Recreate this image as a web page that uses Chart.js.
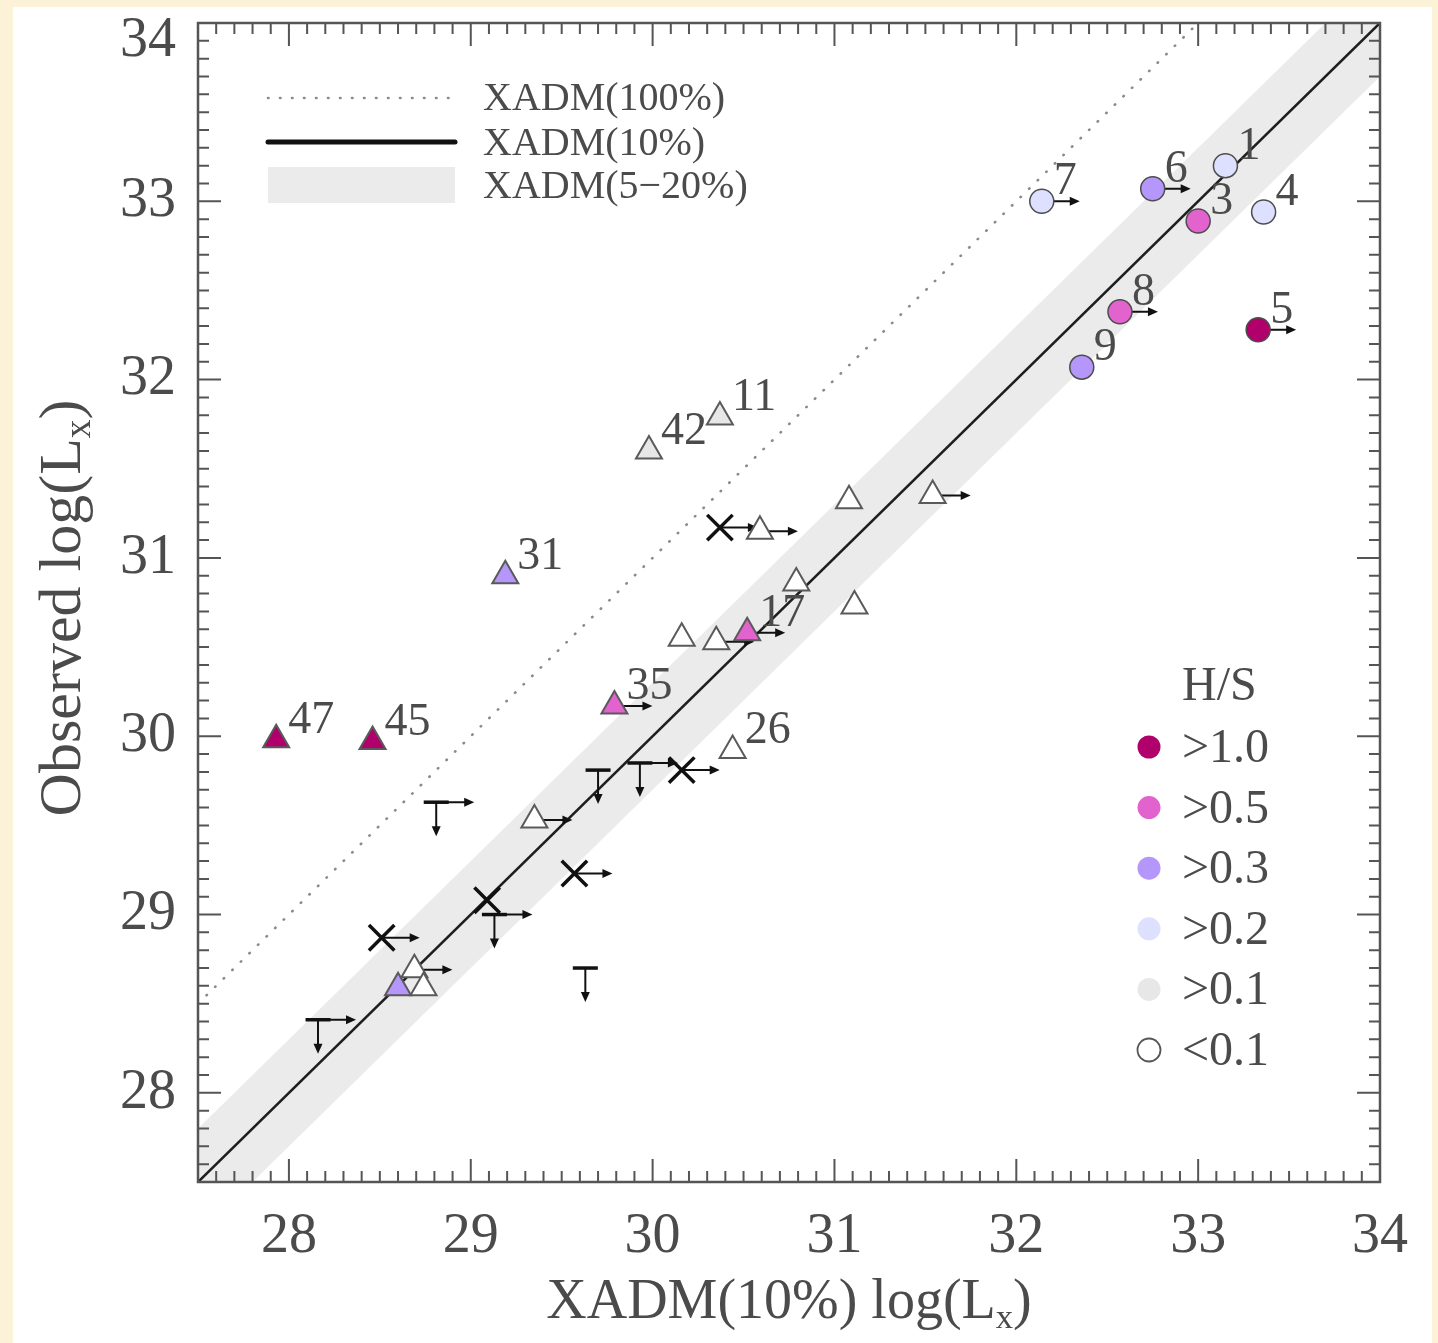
<!DOCTYPE html>
<html>
<head>
<meta charset="utf-8">
<title>Observed log(Lx) vs XADM(10%) log(Lx)</title>
<script src="https://cdn.jsdelivr.net/npm/chart.js@4.4.1/dist/chart.umd.min.js"></script>
<style>
  html, body { margin: 0; padding: 0; }
  body { width: 1438px; height: 1343px; background: #fbf2d7; position: relative; overflow: hidden; }
  .panel { position: absolute; left: 13px; top: 7px; width: 1419px; height: 1336px; background: #fff; }
  #lxChart { position: absolute; left: 0; top: 0; }
</style>
</head>
<body>
<div class="panel"></div>
<canvas id="lxChart" width="1438" height="1343"></canvas>
<script>
// axis range (both axes are log Lx) and labelled ticks
const axisRange = [27.5, 34];
const tickValues = [28, 29, 30, 31, 32, 33, 34];

// model lines: XADM(10%) is y = x, XADM(100%) sits one dex above, 5-20% band is +/- log10(2)
const fullModelOffset = 1;
const bandOffset = 0.3;

// H/S hardness classes
const hsLabels = [">1.0", ">0.5", ">0.3", ">0.2", ">0.1", "<0.1"];
const hsColors = ["#b1006b", "#e263cd", "#b597fb", "#dde0ff", "#e7e7e7", "#ffffff"];

// numbered sources (circles); hs = index into hsLabels, lowX = lower limit on the model value
const circleIds = ["1", "6", "7", "3", "4", "8", "9", "5"];
const circleX = [33.15, 32.75, 32.14, 33.00, 33.36, 32.57, 32.36, 33.33];
const circleY = [33.20, 33.07, 33.00, 32.89, 32.94, 32.38, 32.07, 32.28];
const circleHS = [3, 2, 3, 1, 3, 1, 2, 0];
const circleLowX = [false, true, true, false, false, true, false, true];

// triangles
const triIds = ["47", "45", "31", "42", "11", "35", "26", "17", "", "", "", "", "", "", "", "", "", "", ""];
const triX = [27.93, 28.46, 29.19, 29.98, 30.37, 29.79, 30.44, 30.52, 30.16, 30.35, 30.79, 31.08, 31.54, 31.11, 30.59, 29.35, 28.60, 28.69, 28.74];
const triY = [29.98, 29.97, 30.90, 31.60, 31.79, 30.17, 29.92, 30.58, 30.55, 30.53, 30.86, 31.32, 31.35, 30.73, 31.15, 29.53, 28.59, 28.69, 28.59];
const triHS = [0, 0, 2, 4, 4, 1, 5, 1, 5, 5, 5, 5, 5, 5, 5, 5, 2, 5, 5];
const triLowX = [false, false, false, false, false, true, false, true, false, true, false, false, true, false, true, true, false, true, false];

// crosses
const crossX = [30.37, 30.16, 29.57, 29.09, 28.51];
const crossY = [31.17, 29.81, 29.23, 29.08, 28.87];
const crossLowX = [true, true, true, false, true];

// upper limits on the observed value
const limitX = [28.81, 28.16, 29.13, 29.63, 29.70, 29.93];
const limitY = [29.63, 28.41, 29.00, 28.70, 29.81, 29.85];
const limitLowX = [true, true, true, false, false, true];

const family = "'Liberation Serif', 'Times New Roman', serif";
const ink = "#4b4b4b";

const toPoints = (xs, ys) => xs.map((x, i) => ({ x, y: ys[i] }));
const lineThrough = off => axisRange.map(x => ({ x, y: x + off }));

const datasets = [
  {
    label: "circles", data: toPoints(circleX, circleY),
    pointStyle: "circle", pointRadius: 12,
    pointBackgroundColor: circleHS.map(h => hsColors[h]),
    pointBorderColor: "#4d4d4d", pointBorderWidth: 1.5, order: 0
  },
  {
    label: "triangles", data: toPoints(triX, triY),
    pointStyle: "triangle", pointRadius: 15,
    pointBackgroundColor: triHS.map(h => hsColors[h]),
    pointBorderColor: "#5a5a5a", pointBorderWidth: 2, order: 1
  },
  {
    label: "crosses", data: toPoints(crossX, crossY),
    pointStyle: "crossRot", pointRadius: 18,
    pointBorderColor: "#111", pointBorderWidth: 3.5, order: 2
  },
  {
    label: "limits", data: toPoints(limitX, limitY),
    pointStyle: "line", pointRadius: 12.5,
    pointBorderColor: "#111", pointBorderWidth: 3.5, order: 3
  },
  {
    type: "line", label: "XADM(10%)", data: lineThrough(0),
    borderColor: "#1e1e1e", borderWidth: 2.6, pointRadius: 0, fill: false, order: 4
  },
  {
    type: "line", label: "XADM(100%)", data: lineThrough(fullModelOffset),
    borderColor: "#8a8a8a", borderWidth: 2.6, borderDash: [0.5, 11.5], borderCapStyle: "round",
    pointRadius: 0, fill: false, order: 5
  },
  {
    type: "line", label: "XADM(5-20%)", data: lineThrough(bandOffset),
    borderColor: "transparent", borderWidth: 0, backgroundColor: "#ebebeb",
    fill: "+1", pointRadius: 0, order: 6
  },
  {
    type: "line", label: "band-low", data: lineThrough(-bandOffset),
    borderColor: "transparent", borderWidth: 0, fill: false, pointRadius: 0, order: 6
  }
];
const limitIndex = 3;

function drawArrow(ctx, x0, y0, x1, y1) {
  const a = Math.atan2(y1 - y0, x1 - x0), head = 10, half = 4.5;
  const c = Math.cos(a), s = Math.sin(a);
  ctx.beginPath();
  ctx.moveTo(x0, y0);
  ctx.lineTo(x1 - c * head * 0.6, y1 - s * head * 0.6);
  ctx.stroke();
  ctx.beginPath();
  ctx.moveTo(x1, y1);
  ctx.lineTo(x1 - head * c + half * s, y1 - head * s - half * c);
  ctx.lineTo(x1 - head * c - half * s, y1 - head * s + half * c);
  ctx.closePath();
  ctx.fill();
}

// "prefix log(L_x)" with a real subscript, centred on x
function drawLogText(ctx, prefix, x, y, size) {
  const main = prefix + "log(L", sub = "x", tail = ")";
  const subSize = size * 0.62;
  ctx.font = `${size}px ${family}`;
  const w1 = ctx.measureText(main).width, w3 = ctx.measureText(tail).width;
  ctx.font = `${subSize}px ${family}`;
  const w2 = ctx.measureText(sub).width;
  let cx = x - (w1 + w2 + w3) / 2;
  ctx.textAlign = "left";
  ctx.textBaseline = "alphabetic";
  ctx.font = `${size}px ${family}`;
  ctx.fillText(main, cx, y);
  cx += w1;
  ctx.font = `${subSize}px ${family}`;
  ctx.fillText(sub, cx, y + size * 0.17);
  cx += w2;
  ctx.font = `${size}px ${family}`;
  ctx.fillText(tail, cx, y);
}

// limit arrows go under the markers
const limitArrows = {
  id: "limitArrows",
  beforeDatasetDraw(chart, args) {
    if (args.index !== limitIndex) return;
    const { ctx, scales: { x, y } } = chart;
    ctx.save();
    ctx.strokeStyle = "#111";
    ctx.fillStyle = "#111";
    ctx.lineWidth = 2;
    const right = (xs, ys, flags) => xs.forEach((v, i) => {
      if (!flags[i]) return;
      const px = x.getPixelForValue(v), py = y.getPixelForValue(ys[i]);
      drawArrow(ctx, px, py, px + 38, py);
    });
    right(circleX, circleY, circleLowX);
    right(triX, triY, triLowX);
    right(crossX, crossY, crossLowX);
    right(limitX, limitY, limitLowX);
    limitX.forEach((v, i) => {
      const px = x.getPixelForValue(v), py = y.getPixelForValue(limitY[i]);
      drawArrow(ctx, px, py, px, py + 34);
    });
    ctx.restore();
  }
};

// box frame with inward major/minor ticks on all four sides
const frameTicks = {
  id: "frameTicks",
  afterDatasetsDraw(chart) {
    const { ctx, chartArea: a, scales: { x, y } } = chart;
    ctx.save();
    ctx.strokeStyle = "#555";
    ctx.lineWidth = 2;
    ctx.beginPath();
    for (let i = 276; i < 340; i++) {
      const v = i / 10, len = i % 10 === 0 ? 23 : 11;
      const px = x.getPixelForValue(v), py = y.getPixelForValue(v);
      ctx.moveTo(px, a.bottom); ctx.lineTo(px, a.bottom - len);
      ctx.moveTo(px, a.top); ctx.lineTo(px, a.top + len);
      ctx.moveTo(a.left, py); ctx.lineTo(a.left + len, py);
      ctx.moveTo(a.right, py); ctx.lineTo(a.right - len, py);
    }
    ctx.stroke();
    ctx.lineWidth = 2.5;
    ctx.strokeRect(a.left, a.top, a.right - a.left, a.bottom - a.top);
    ctx.restore();
  }
};

// source numbers, axis titles and the two keys
const annotations = {
  id: "annotations",
  afterDraw(chart) {
    const { ctx, chartArea: a, scales: { x, y } } = chart;
    ctx.save();
    ctx.fillStyle = ink;
    ctx.textAlign = "left";
    ctx.textBaseline = "alphabetic";
    ctx.font = `46px ${family}`;
    const tag = (ids, xs, ys) => ids.forEach((t, i) => {
      if (!t) return;
      ctx.fillText(t, x.getPixelForValue(xs[i]) + 12, y.getPixelForValue(ys[i]) - 7);
    });
    tag(circleIds, circleX, circleY);
    tag(triIds, triX, triY);

    // axis titles
    drawLogText(ctx, "XADM(10%) ", (a.left + a.right) / 2, 1318, 56);
    ctx.save();
    ctx.translate(80, 608);
    ctx.rotate(-Math.PI / 2);
    drawLogText(ctx, "Observed ", 0, 0, 60);
    ctx.restore();

    // model line key
    const kx0 = a.left + 70, kx1 = a.left + 257, tx = a.left + 285;
    ctx.fillStyle = "#ebebeb";
    ctx.fillRect(kx0, a.top + 144, kx1 - kx0, 36);
    ctx.strokeStyle = "#8a8a8a";
    ctx.lineWidth = 2.6;
    ctx.lineCap = "round";
    ctx.setLineDash([0.5, 11.5]);
    ctx.beginPath(); ctx.moveTo(kx0, a.top + 75); ctx.lineTo(kx1, a.top + 75); ctx.stroke();
    ctx.setLineDash([]);
    ctx.strokeStyle = "#111";
    ctx.lineWidth = 5;
    ctx.beginPath(); ctx.moveTo(kx0, a.top + 119); ctx.lineTo(kx1, a.top + 119); ctx.stroke();
    ctx.fillStyle = ink;
    ctx.font = `40px ${family}`;
    ctx.fillText("XADM(100%)", tx, a.top + 87);
    ctx.fillText("XADM(10%)", tx, a.top + 132);
    ctx.fillText("XADM(5\u221220%)", tx, a.top + 175);

    // H/S key
    const cx = a.right - 231, lx = a.right - 198;
    ctx.font = `48px ${family}`;
    ctx.fillText("H/S", lx, a.top + 677);
    hsLabels.forEach((t, i) => {
      const cy = a.top + 724 + i * 60.6;
      ctx.beginPath();
      ctx.arc(cx, cy, 11.5, 0, Math.PI * 2);
      ctx.fillStyle = hsColors[i];
      ctx.fill();
      if (i === hsLabels.length - 1) {
        ctx.lineWidth = 1.8;
        ctx.strokeStyle = "#555";
        ctx.stroke();
      }
      ctx.fillStyle = ink;
      ctx.fillText(t, lx, cy + 15);
    });
    ctx.restore();
  }
};

const tickFont = { family, size: 56 };

new Chart(document.getElementById("lxChart"), {
  type: "scatter",
  data: { datasets },
  options: {
    responsive: false,
    devicePixelRatio: 1,
    animation: false,
    events: [],
    layout: { padding: { left: 0, top: 23, right: 58, bottom: 0 } },
    plugins: { legend: { display: false }, tooltip: { enabled: false } },
    scales: {
      x: {
        type: "linear",
        min: axisRange[0],
        max: axisRange[1],
        afterBuildTicks: s => { s.ticks = tickValues.map(value => ({ value })); },
        afterFit: s => { s.height = 161; s.paddingLeft = 0; s.paddingRight = 0; },
        grid: { display: false, drawTicks: false },
        border: { display: false },
        ticks: { padding: 22, color: ink, font: tickFont, maxRotation: 0, autoSkip: false }
      },
      y: {
        type: "linear",
        min: axisRange[0],
        max: axisRange[1],
        afterBuildTicks: s => { s.ticks = tickValues.map(value => ({ value })); },
        afterFit: s => { s.width = 198; s.paddingTop = 0; s.paddingBottom = 0; },
        grid: { display: false, drawTicks: false },
        border: { display: false },
        ticks: {
          padding: 22,
          color: ink,
          autoSkip: false,
          // top label sits just below the corner
          callback: v => v === axisRange[1] ? ["", String(v)] : String(v),
          font: c => ({ family, size: 56, lineHeight: c.tick && c.tick.value === axisRange[1] ? 0.64 : 1.2 })
        }
      }
    }
  },
  plugins: [limitArrows, frameTicks, annotations]
});
</script>
</body>
</html>
